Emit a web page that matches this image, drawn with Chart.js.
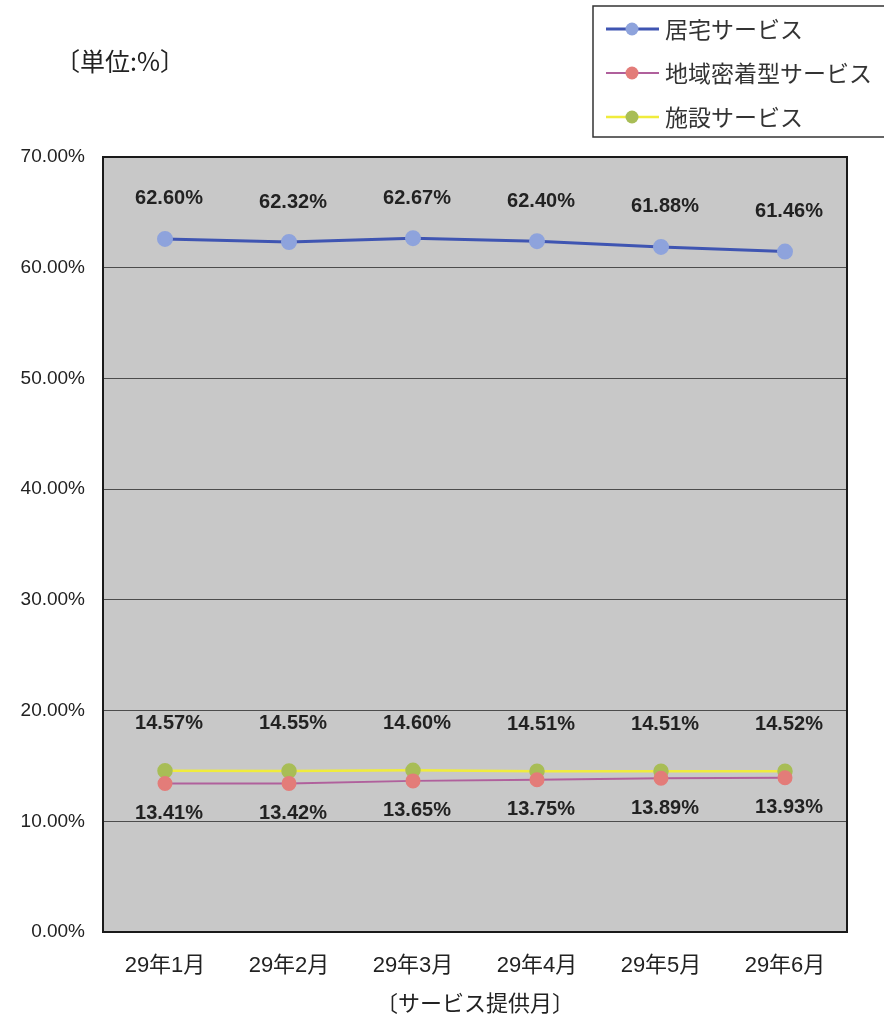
<!DOCTYPE html>
<html lang="ja">
<head>
<meta charset="UTF-8">
<title>サービス別割合</title>
<script src="https://cdn.jsdelivr.net/npm/chart.js"></script>
<style>
    body {
        margin: 0;
        background: #ffffff;
    }
    canvas {
        display: block;
    }
</style>
</head>
<body>
<canvas id="myChart" width="884" height="1023"></canvas>
<script>
    // data
    const months = ['29年1月', '29年2月', '29年3月', '29年4月', '29年5月', '29年6月'];
    const seriesNames = ['居宅サービス', '地域密着型サービス', '施設サービス'];
    const kyotaku = [62.60, 62.32, 62.67, 62.40, 61.88, 61.46];
    const chiiki = [13.41, 13.42, 13.65, 13.75, 13.89, 13.93];
    const shisetsu = [14.57, 14.55, 14.60, 14.51, 14.51, 14.52];
    const yTicks = [0, 10, 20, 30, 40, 50, 60, 70];

    const FONT = '"Liberation Sans", "Noto Sans CJK JP", sans-serif';
    const JFONT = '"Noto Sans CJK JP", sans-serif';

    // where each series puts its value labels (px from the point)
    const labelOffset = [-40, 30, -47];

    const bgPlugin = {
        id: 'bgPlugin',
        beforeDraw(chart) {
            const c = chart.ctx, a = chart.chartArea;
            c.save();
            c.fillStyle = '#ffffff';
            c.fillRect(0, 0, chart.width, chart.height);
            c.fillStyle = '#c8c8c8';
            c.fillRect(a.left, a.top, a.right - a.left, a.bottom - a.top);
            c.restore();
        }
    };

    const labelPlugin = {
        id: 'labelPlugin',
        afterDatasetsDraw(chart) {
            const c = chart.ctx;
            c.save();
            c.font = 'bold 20px ' + FONT;
            c.fillStyle = '#222222';
            c.textAlign = 'center';
            c.textBaseline = 'middle';
            chart.data.datasets.forEach((ds, i) => {
                chart.getDatasetMeta(i).data.forEach((pt, j) => {
                    c.fillText(ds.data[j].toFixed(2) + '%', pt.x + 4, pt.y + labelOffset[i]);
                });
            });
            c.restore();
        },
        afterDraw(chart) {
            const c = chart.ctx, a = chart.chartArea;
            c.save();
            // plot border
            c.strokeStyle = '#1a1a1a';
            c.lineWidth = 2;
            c.strokeRect(a.left, a.top, a.right - a.left, a.bottom - a.top);

            // unit note
            c.font = '25px ' + JFONT;
            c.fillStyle = '#222222';
            c.textBaseline = 'middle';
            c.fillText('〔単位:%〕', 55, 61);

            // legend box
            c.fillStyle = '#ffffff';
            c.fillRect(593, 6, 300, 131);
            c.strokeStyle = '#333333';
            c.lineWidth = 1.5;
            c.strokeRect(593, 6, 300, 131);
            const rows = [29, 73, 117];
            chart.data.datasets.forEach((ds, i) => {
                const y = rows[i];
                c.strokeStyle = ds.borderColor;
                c.lineWidth = ds.borderWidth;
                c.beginPath();
                c.moveTo(606, y);
                c.lineTo(659, y);
                c.stroke();
                c.fillStyle = ds.pointBackgroundColor;
                c.beginPath();
                c.arc(632, y, 6.5, 0, Math.PI * 2);
                c.fill();
                c.fillStyle = '#333333';
                c.font = '23px ' + JFONT;
                c.fillText(ds.label, 665, y);
            });
            c.restore();
        }
    };

    const ctx = document.getElementById('myChart').getContext('2d');

    const myChart = new Chart(ctx, {
        type: 'line',
        data: {
            labels: months,
            datasets: [{
                label: seriesNames[0],
                data: kyotaku,
                borderColor: '#3f55b2',
                borderWidth: 3,
                pointBackgroundColor: '#8ea3dc',
                pointBorderColor: '#8ea3dc',
                pointRadius: 6.5
            }, {
                label: seriesNames[1],
                data: chiiki,
                borderColor: '#b0609c',
                borderWidth: 2,
                pointBackgroundColor: '#e37c79',
                pointBorderColor: '#e37c79',
                pointRadius: 6.5
            }, {
                label: seriesNames[2],
                data: shisetsu,
                borderColor: '#f0ec3c',
                borderWidth: 2.5,
                pointBackgroundColor: '#a8bd56',
                pointBorderColor: '#a8bd56',
                pointRadius: 6.5
            }]
        },
        options: {
            responsive: false,
            animation: false,
            layout: {
                padding: { top: 157, right: 37, bottom: 0, left: 0 }
            },
            plugins: {
                legend: { display: false },
                tooltip: { enabled: false }
            },
            scales: {
                x: {
                    offset: true,
                    grid: { display: false },
                    border: { display: false },
                    ticks: {
                        color: '#222222',
                        font: { family: FONT, size: 22 },
                        padding: 13,
                        maxRotation: 0
                    },
                    title: {
                        display: true,
                        text: '〔サービス提供月〕',
                        color: '#222222',
                        font: { family: JFONT, size: 22 },
                        padding: { top: 0, bottom: 7 }
                    },
                    afterFit(scale) {
                        scale.height = 91;
                    }
                },
                y: {
                    min: yTicks[0],
                    max: yTicks[yTicks.length - 1],
                    afterBuildTicks(scale) {
                        scale.ticks = yTicks.map(v => ({ value: v }));
                    },
                    grid: {
                        color: '#4c4c4c',
                        lineWidth: 1,
                        drawTicks: false
                    },
                    border: { display: false },
                    ticks: {
                        color: '#222222',
                        font: { family: FONT, size: 19 },
                        padding: 18,
                        callback: v => v.toFixed(2) + '%'
                    },
                    afterFit(scale) {
                        scale.width = 103;
                    }
                }
            }
        },
        plugins: [bgPlugin, labelPlugin]
    });
</script>
</body>
</html>
